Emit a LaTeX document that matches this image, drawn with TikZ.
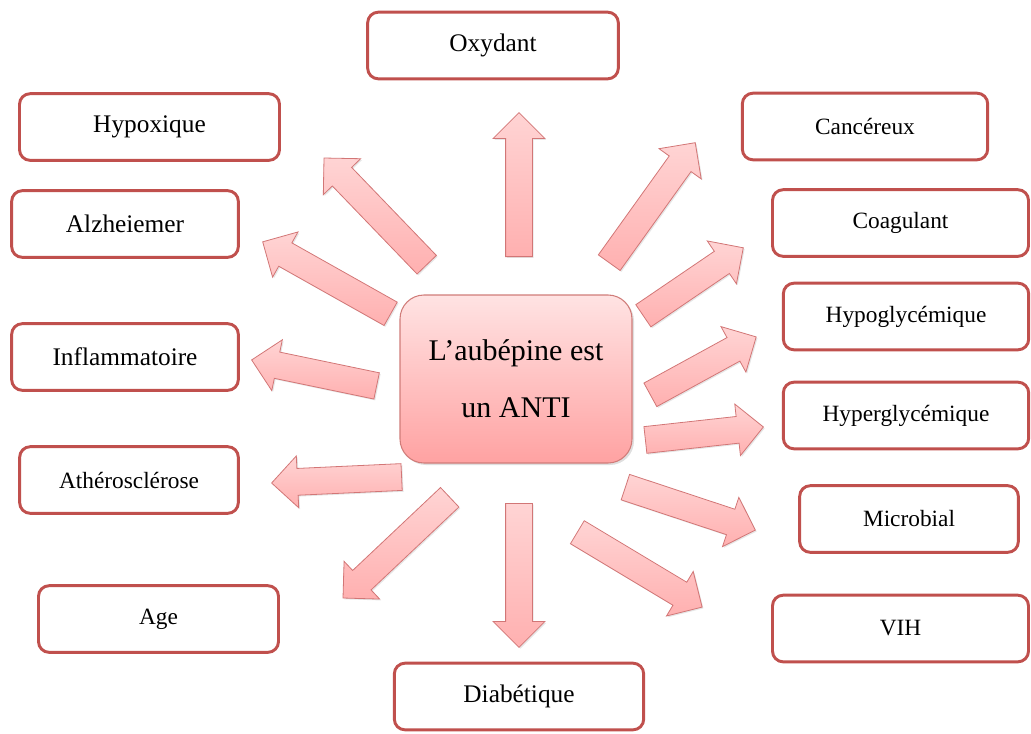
\documentclass[tikz,border=0pt]{standalone}
\usepackage{fontspec}
\setmainfont{Liberation Serif}
\usetikzlibrary{calc,shapes.arrows,shadows}

\definecolor{boxred}{HTML}{C0504D}
\definecolor{arrowline}{HTML}{D27676}
\definecolor{pinklight}{HTML}{FFE3E3}
\definecolor{pinkdark}{HTML}{FFA2A2}
\definecolor{arrowlight}{HTML}{FFD4D4}
\definecolor{arrowdark}{HTML}{FFB0B0}

\tikzstyle{box} = [draw=boxred, line width=2.2pt, rounded corners=8pt,
    fill=white, minimum height=50pt, align=center,
    font=\fontsize{17.5}{21}\selectfont]
\tikzstyle{bigbox} = [box, font=\fontsize{19}{23}\selectfont]
\tikzstyle{centre} = [draw=boxred!75, line width=0.8pt, rounded corners=18pt,
    top color=pinklight, bottom color=pinkdark, minimum width=174pt,
    minimum height=126pt, align=center, font=\fontsize{22.5}{43}\selectfont,
    drop shadow={opacity=0.25, shadow xshift=1.5pt, shadow yshift=-1.5pt}]
\tikzstyle{blockarrow} = [single arrow, draw=arrowline, line width=0.6pt,
    inner xsep=0pt, inner ysep=9.75pt, minimum width=38pt,
    single arrow head extend=9.4pt, single arrow tip angle=90,
    top color=arrowlight, bottom color=arrowdark, anchor=tail,
    drop shadow={opacity=0.2, shadow xshift=1pt, shadow yshift=-1pt}]

% block arrow from #2 to #3, named #1
\newcommand{\fleche}[3]{%
  \path let \p1=($(#3)-(#2)$), \n1={atan2(\y1,\x1)}, \n2={veclen(\x1,\y1)} in
    node[blockarrow, rotate=\n1, minimum height=\n2] (#1) at (#2) {};}

\begin{document}
\begin{tikzpicture}[x=0.75pt, y=-0.75pt]
    \useasboundingbox (0,0) rectangle (1031,733);

    % centre
    \node [centre] (aub) at (516,379) {L’aubépine est\\un ANTI};

    % left side
    \node [bigbox, minimum width=188pt] (oxy) at (493,45.5) {Oxydant};
    \node [bigbox, minimum width=195pt] (hypox) at (149.5,127) {Hypoxique};
    \node [bigbox, minimum width=170pt] (alz) at (125,224) {Alzheiemer};
    \node [bigbox, minimum width=170pt] (infl) at (125,357) {Inflammatoire};
    \node [box, minimum width=164pt] (ather) at (129,480) {Athérosclérose};
    \node [box, minimum width=180pt] (age) at (158.5,619) {Age};
    \node [bigbox, minimum width=187pt] (diab) at (519,696.5) {Diabétique};

    % right side
    \node [box, minimum width=184pt] (canc) at (865,126.5) {Cancéreux};
    \node [box, minimum width=192pt] (coag) at (900.5,223) {Coagulant};
    \node [box, minimum width=184pt] (hypo) at (906,316.5) {Hypoglycémique};
    \node [box, minimum width=184pt] (hyper) at (906,415.5) {Hyperglycémique};
    \node [box, minimum width=164pt] (micro) at (909,519) {Microbial};
    \node [box, minimum width=192pt] (vih) at (900.5,628.5) {VIH};

    % arrow ends
    \coordinate (s1) at (519,257);  \coordinate (t1) at (519,113);
    \coordinate (s2) at (427,265);  \coordinate (t2) at (324,158);
    \coordinate (s3) at (391,314);  \coordinate (t3) at (263,242);
    \coordinate (s4) at (377,386);  \coordinate (t4) at (252,360);
    \coordinate (s5) at (402,477);  \coordinate (t5) at (272,483);
    \coordinate (s6) at (450,497);  \coordinate (t6) at (343,598);
    \coordinate (s7) at (519,503);  \coordinate (t7) at (519,647);
    \coordinate (s8) at (609,263);  \coordinate (t8) at (695,143);
    \coordinate (s9) at (643,316);  \coordinate (t9) at (743,248);
    \coordinate (s10) at (650,395); \coordinate (t10) at (756,337);
    \coordinate (s11) at (645,440); \coordinate (t11) at (763,427);
    \coordinate (s12) at (625,487); \coordinate (t12) at (755,530);
    \coordinate (s13) at (577,532); \coordinate (t13) at (702,607);

    \fleche{a1}{s1}{t1}
    \fleche{a2}{s2}{t2}
    \fleche{a3}{s3}{t3}
    \fleche{a4}{s4}{t4}
    \fleche{a5}{s5}{t5}
    \fleche{a6}{s6}{t6}
    \fleche{a7}{s7}{t7}
    \fleche{a8}{s8}{t8}
    \fleche{a9}{s9}{t9}
    \fleche{a10}{s10}{t10}
    \fleche{a11}{s11}{t11}
    \fleche{a12}{s12}{t12}
    \fleche{a13}{s13}{t13}
\end{tikzpicture}
\end{document}
